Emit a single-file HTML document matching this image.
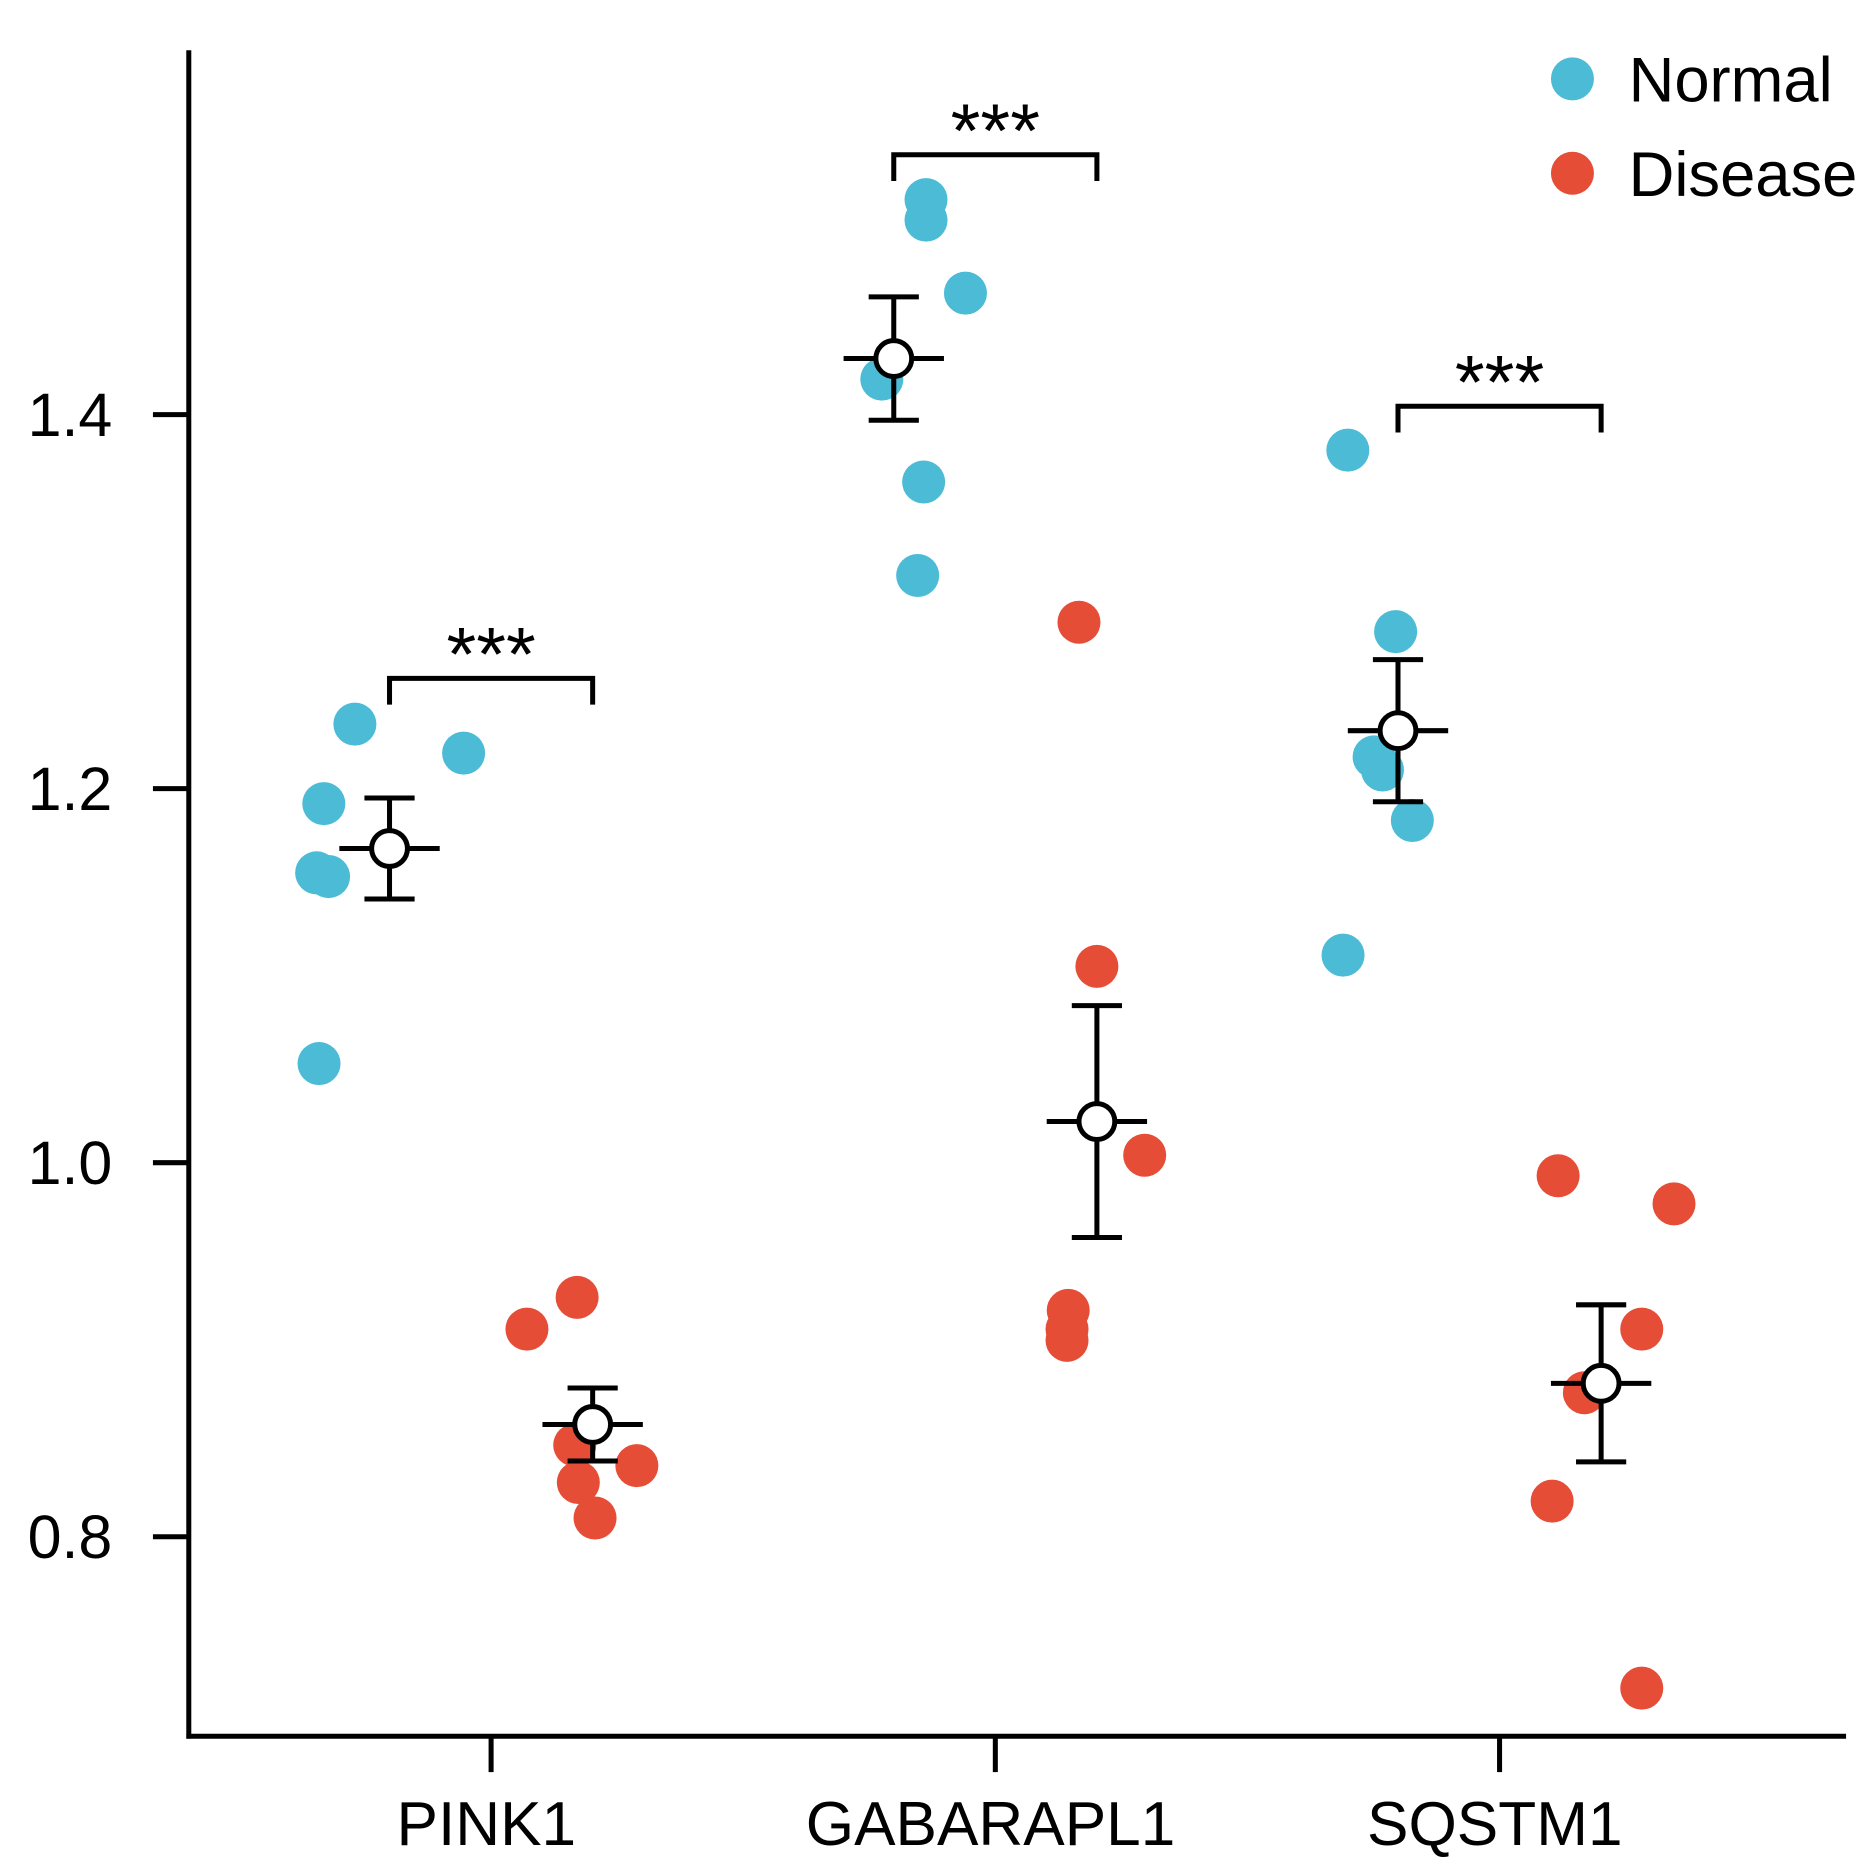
<!DOCTYPE html>
<html><head><meta charset="utf-8"><style>
html,body{margin:0;padding:0;background:#fff;}
svg{display:block;font-family:"Liberation Sans",Arial,sans-serif;}
</style></head><body>
<svg id="chart" width="1864" height="1872" viewBox="0 0 1560 1566.6" preserveAspectRatio="none" xmlns="http://www.w3.org/2000/svg"></svg>
<script>
const categories = ["PINK1", "GABARAPL1", "SQSTM1"];
const normalValues = [
  [1.2345, 1.219, 1.192, 1.155, 1.153, 1.053],
  [1.515, 1.504, 1.465, 1.419, 1.364, 1.314],
  [1.381, 1.284, 1.217, 1.210, 1.183, 1.111]
];
const diseaseValues = [
  [0.928, 0.911, 0.849, 0.838, 0.829, 0.810],
  [1.289, 1.105, 1.004, 0.921, 0.911, 0.905],
  [0.993, 0.978, 0.911, 0.877, 0.819, 0.719]
];
const normalJitter = [
  [-29, 62, -55, -61, -51, -59],
  [27, 27, 60, -10, 25, 20],
  [-42, -2, -20, -13, 12, -46]
];
const diseaseJitter = [
  [-13, -55, -15, 37, -12, 2],
  [-15, 0, 40, -24, -25, -25],
  [-36, 61, 34, -14, -41, 34]
];
const normalMean = [1.168, 1.430, 1.231];
const normalErr = [0.027, 0.033, 0.038];
const diseaseMean = [0.860, 1.022, 0.882];
const diseaseErr = [0.0195, 0.062, 0.042];
const sigLevel = [1.259, 1.539, 1.4045];
const sigLabels = ["***", "***", "***"];
const yTicks = [0.8, 1.0, 1.2, 1.4];
const yTickLabels = ["0.8", "1.0", "1.2", "1.4"];

const NS = "http://www.w3.org/2000/svg";
const svg = document.getElementById("chart");
const X0 = 158, X1 = 1545, YTOP = 42, YBOT = 1453;
const SW = 4.2;
function y(v){ return 973 - (v - 1.0) * 1565; }
function xc(i){ return 411 + i * 422; }
const GOFF = 85;
function mk(tag, attrs, parent){
  const e = document.createElementNS(NS, tag);
  for (const k in attrs) e.setAttribute(k, attrs[k]);
  (parent || svg).appendChild(e);
  return e;
}
const BLUE = "#4BBBD6", RED = "#E64D37";

let ax = mk("line", {x1:X0, y1:YTOP, x2:X0, y2:YBOT+2, stroke:"#000","stroke-width":SW});


ax = mk("line", {x1:X0-2, y1:YBOT, x2:X1, y2:YBOT, stroke:"#000","stroke-width":SW});



yTicks.forEach((t, i) => {
  const tk = mk("line", {x1:X0-30, y1:y(t), x2:X0, y2:y(t), stroke:"#000","stroke-width":SW});
  
  
  const tl = mk("text", {x:94, y:y(t)+18, "text-anchor":"end","font-size":51, fill:"#000"});
  tl.textContent = yTickLabels[i];
  
  
});

categories.forEach((c, i) => {
  const cx = xc(i);
  const tk = mk("line", {x1:cx, y1:YBOT, x2:cx, y2:YBOT+30, stroke:"#000","stroke-width":SW});
  
  
  const tl = mk("text", {x:cx-4, y:1544, "text-anchor":"middle","font-size":52, fill:"#000"});
  tl.textContent = c;
  
  

  const nx = cx - GOFF, dx = cx + GOFF;
  normalValues[i].forEach((v, j) => {
    const p = mk("circle", {cx:nx + normalJitter[i][j], cy:y(v), r:18, fill:BLUE});
    
    
  });
  diseaseValues[i].forEach((v, j) => {
    const p = mk("circle", {cx:dx + diseaseJitter[i][j], cy:y(v), r:18, fill:RED});
    
    
  });

  [[nx, normalMean[i], normalErr[i], 'normal'], [dx, diseaseMean[i], diseaseErr[i], 'disease']].forEach(([gx, m, e, nm]) => {
    const g = mk("g", {stroke:"#000","stroke-width":SW, fill:"none"});
    
    
    mk("line", {x1:gx, y1:y(m+e), x2:gx, y2:y(m-e)}, g);
    mk("line", {x1:gx-21, y1:y(m+e), x2:gx+21, y2:y(m+e)}, g);
    mk("line", {x1:gx-21, y1:y(m-e), x2:gx+21, y2:y(m-e)}, g);
    mk("line", {x1:gx-42, y1:y(m), x2:gx+42, y2:y(m)}, g);
    mk("circle", {cx:gx, cy:y(m), r:15, fill:"#fff"}, g);
  });

  const by = y(sigLevel[i]);
  const br = mk("path", {d:`M${nx},${by+22} V${by} H${dx} V${by+22}`, stroke:"#000","stroke-width":SW, fill:"none"});
  
  
  const st = mk("text", {x:cx, y:by+2, "text-anchor":"middle","font-size":64, fill:"#000"});
  st.textContent = sigLabels[i];
  
  
});

[["Normal", BLUE, 66], ["Disease", RED, 145]].forEach(([lab, col, ly]) => {
  const g = mk("g", {});
  
  
  mk("circle", {cx:1316, cy:ly, r:18, fill:col}, g);
  const t = mk("text", {x:1363, y:ly+19, "font-size":53, fill:"#000"}, g);
  t.textContent = lab;
});
</script>
</body></html>
